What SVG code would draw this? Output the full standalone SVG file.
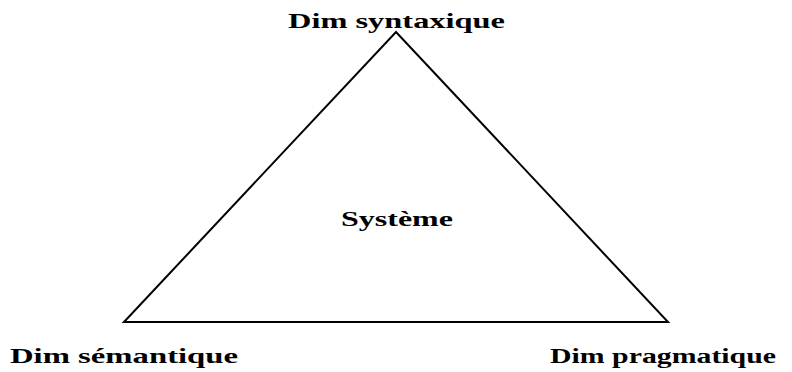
<svg xmlns="http://www.w3.org/2000/svg" width="792" height="372" viewBox="0 0 792 372">
<style>
text{font-family:"Liberation Serif","DejaVu Serif",serif;font-weight:bold;font-size:21px;fill:#000}
.edge{fill:none;stroke:#000;stroke-width:2;stroke-linejoin:miter}
</style>
<rect width="792" height="372" fill="#fff"/>
<g id="connectors">
<path class="edge" d="M124,322 L396,32 L668,322 Z"/>
</g>
<g id="syntaxique"><text x="396.5" y="28" text-anchor="middle" textLength="217" lengthAdjust="spacingAndGlyphs">Dim syntaxique</text></g>
<g id="semantique"><text x="124" y="363" text-anchor="middle" textLength="228" lengthAdjust="spacingAndGlyphs">Dim sémantique</text></g>
<g id="pragmatique"><text x="663" y="363" text-anchor="middle" textLength="226" lengthAdjust="spacingAndGlyphs">Dim pragmatique</text></g>
<g id="systeme"><text x="397" y="226" text-anchor="middle" textLength="112" lengthAdjust="spacingAndGlyphs">Système</text></g>
</svg>
